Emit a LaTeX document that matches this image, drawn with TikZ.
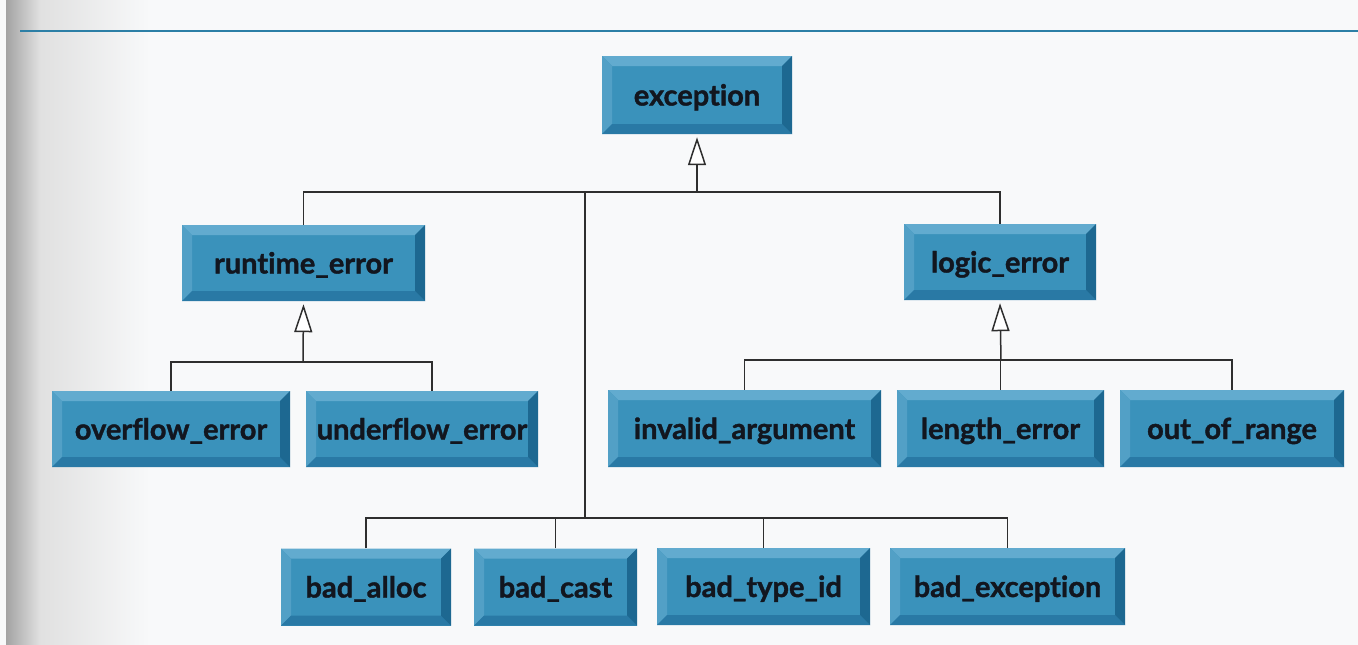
\documentclass[tikz,border=0pt]{standalone}
\usepackage{fontspec}
\setmainfont{Lato}[Ligatures={NoCommon}, BoldFeatures={FakeBold=1.3}]
\usetikzlibrary{arrows.meta}

\definecolor{paper}{HTML}{F8F9FA}
\definecolor{face}{HTML}{3A92BB}
\definecolor{bvtop}{HTML}{62ABCF}
\definecolor{bvleft}{HTML}{52A0C6}
\definecolor{bvright}{HTML}{1D6891}
\definecolor{bvbottom}{HTML}{2979A5}
\definecolor{ink}{HTML}{12161F}
\definecolor{wire}{HTML}{2E2E2E}
\definecolor{rule}{HTML}{2C7FA6}

\newcommand{\bv}{10pt}
\newcommand{\ppb}{path picture bounding box}

\tikzset{
  cls/.style={rectangle, inner sep=0pt, fill=face, text=ink,
    text height=25pt, text depth=4pt,
    font=\fontsize{29}{34}\selectfont\bfseries,
    path picture={
      % top bevel
      \fill[bvtop] (\ppb.north west) -- (\ppb.north east)
        -- ([xshift=-\bv,yshift=-\bv]\ppb.north east)
        -- ([xshift=\bv,yshift=-\bv]\ppb.north west) -- cycle;
      % left bevel
      \fill[bvleft] (\ppb.north west) -- ([xshift=\bv,yshift=-\bv]\ppb.north west)
        -- ([xshift=\bv,yshift=\bv]\ppb.south west) -- (\ppb.south west) -- cycle;
      % bottom bevel
      \fill[bvbottom] (\ppb.south west) -- (\ppb.south east)
        -- ([xshift=-\bv,yshift=\bv]\ppb.south east)
        -- ([xshift=\bv,yshift=\bv]\ppb.south west) -- cycle;
      % right bevel
      \fill[bvright] (\ppb.north east) -- ([xshift=-\bv,yshift=-\bv]\ppb.north east)
        -- ([xshift=-\bv,yshift=\bv]\ppb.south east) -- (\ppb.south east) -- cycle;
    }},
  link/.style={draw=wire, line width=1.5pt},
  inherit/.style={link,
    -{Triangle[length=28pt, width=18pt, fill=white, line width=1.5pt]}},
}

\begin{document}
\begin{tikzpicture}[x=1pt, y=-1pt]
  \useasboundingbox (0,0) rectangle (1358,645);
  \fill[paper] (0,0) rectangle (1358,645);
  % shadow of the binding along the left edge
  \shade[left color=black!36, right color=black!12] (6,0) rectangle (40,645);
  \shade[left color=black!12, right color=paper] (40,0) rectangle (150,645);
  % running rule at the top of the page
  \draw[rule, line width=2pt] (20,31) -- (1358,31);

  % classes
  \node[cls, minimum width=190pt, minimum height=78pt] (exc) at (697,95) {exception};
  \node[cls, minimum width=243pt, minimum height=76pt] (rt)  at (303.5,263) {runtime\_error};
  \node[cls, minimum width=192pt, minimum height=76pt] (lg)  at (1000,262) {logic\_error};

  \node[cls, minimum width=238pt, minimum height=76pt] (ov)  at (171,429) {overflow\_error};
  \node[cls, minimum width=232pt, minimum height=76pt] (uf)  at (422,429) {underflow\_error};
  \node[cls, minimum width=273pt, minimum height=77pt] (ia)  at (744.5,428.5) {invalid\_argument};
  \node[cls, minimum width=207pt, minimum height=77pt] (le)  at (1000.5,428.5) {length\_error};
  \node[cls, minimum width=224pt, minimum height=77pt] (oor) at (1232,428.5) {out\_of\_range};

  \node[cls, minimum width=170pt, minimum height=77pt] (ba)  at (366,587) {bad\_alloc};
  \node[cls, minimum width=163pt, minimum height=77pt] (bc)  at (555.5,587) {bad\_cast};
  \node[cls, minimum width=213pt, minimum height=77pt] (bt)  at (763.5,586.5) {bad\_type\_id};
  \node[cls, minimum width=235pt, minimum height=77pt] (be)  at (1007.5,586.5) {bad\_exception};

  % bus points
  \coordinate (hub)   at (697,192);
  \coordinate (drop)  at (585,192);
  \coordinate (busC)  at (585,518);
  \coordinate (rtbus) at (303,362);
  \coordinate (lgbus) at (1001,360);
  \coordinate (ufdrop) at ([xshift=10pt]uf.north);

  % exception and its direct subclasses
  \draw[inherit] (hub) -- ([yshift=-3pt]exc.south);
  \draw[link] (rt.north) -- (rt.north |- hub) -- (lg.north |- hub) -- (lg.north);
  \draw[link] (drop) -- (busC);
  \draw[link] (ba.north) -- (ba.north |- busC) -- (be.north |- busC) -- (be.north);
  \draw[link] (bc.north) -- (bc.north |- busC);
  \draw[link] (bt.north) -- (bt.north |- busC);

  % runtime_error subclasses
  \draw[inherit] (rtbus) -- ([yshift=-3pt]rt.south);
  \draw[link] (ov.north) -- (ov.north |- rtbus) -- (ufdrop |- rtbus) -- (ufdrop);

  % logic_error subclasses
  \draw[inherit] (lgbus) -- ([yshift=-3pt]lg.south);
  \draw[link] (ia.north) -- (ia.north |- lgbus) -- (oor.north |- lgbus) -- (oor.north);
  \draw[link] (le.north) -- (le.north |- lgbus);
\end{tikzpicture}
\end{document}
